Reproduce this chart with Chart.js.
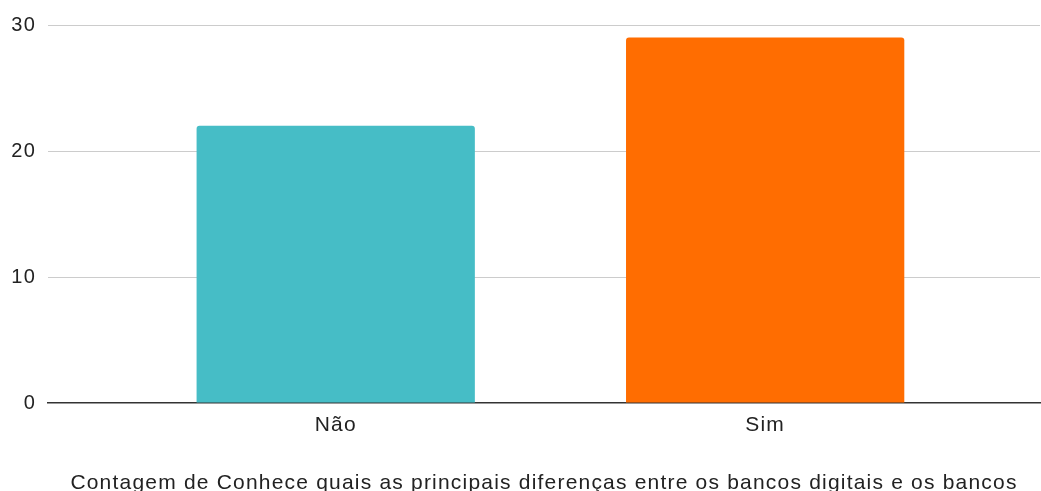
<!DOCTYPE html>
<html>
<head>
<meta charset="utf-8">
<script src="https://cdn.jsdelivr.net/npm/chart.js@4/dist/chart.umd.min.js"></script>
<style>
html,body{margin:0;padding:0;overflow:hidden;background:#fff;}
#wrap{width:1041px;height:520px;}
</style>
</head>
<body>
<div id="wrap"><canvas id="c" width="1041" height="520"></canvas></div>
<script>
const categories = ['Não', 'Sim'];
const counts = [22, 29];
const barColors = ['#46BDC6', '#FF6D01'];
const yTicks = [0, 10, 20, 30];
const xTitleLines = [
  'Contagem de Conhece quais as principais diferenças entre os bancos digitais e os bancos',
  'tradicionais?'
];

const FONT = '"Liberation Sans", Arial, sans-serif';
const H = 520;
const SPACING = '1.2px';

const spacingPlugin = {
  id: 'spacing',
  beforeLayout(chart) { chart.ctx.letterSpacing = SPACING; },
  beforeDraw(chart) { chart.ctx.letterSpacing = SPACING; }
};

new Chart(document.getElementById('c'), {
  type: 'bar',
  plugins: [spacingPlugin],
  data: {
    datasets: [{
      data: categories.map((c, i) => ({ x: i, y: counts[i] })),
      backgroundColor: barColors,
      borderWidth: 0,
      borderRadius: { topLeft: 3, topRight: 3, bottomLeft: 0, bottomRight: 0 },
      borderSkipped: 'bottom',
      barPercentage: 0.648,
      categoryPercentage: 1
    }]
  },
  options: {
    responsive: false,
    animation: false,
    layout: { padding: { top: 25, right: 1, left: 0, bottom: 0 } },
    plugins: { legend: { display: false }, tooltip: { enabled: false } },
    scales: {
      x: {
        type: 'linear',
        offset: false,
        min: -0.67,
        max: 1.64,
        afterBuildTicks: (s) => { s.ticks = categories.map((c, i) => ({ value: i })); },
        afterFit: (s) => { s.height = H - 403; },
        grid: { display: false, drawTicks: false },
        border: { display: true, color: '#333', width: 1.5 },
        ticks: {
          padding: 10,
          color: '#222',
          font: { family: FONT, size: 21 },
          callback: (v) => categories[v]
        },
        title: {
          display: true,
          text: xTitleLines,
          color: '#222',
          font: { family: FONT, size: 21 },
          padding: { top: 20, bottom: -1 }
        }
      },
      y: {
        min: 0,
        max: 30,
        afterBuildTicks: (s) => { s.ticks = yTicks.map(v => ({ value: v })); },
        afterFit: (s) => { s.width = 48; },
        grid: {
          drawTicks: false,
          color: (ctx) => ctx.tick && ctx.tick.value === 0 ? 'rgba(0,0,0,0)' : '#cccccc',
          lineWidth: 1
        },
        border: { display: false },
        ticks: {
          padding: 12,
          color: '#222',
          font: { family: FONT, size: 20 }
        }
      }
    }
  }
});
</script>
</body>
</html>
